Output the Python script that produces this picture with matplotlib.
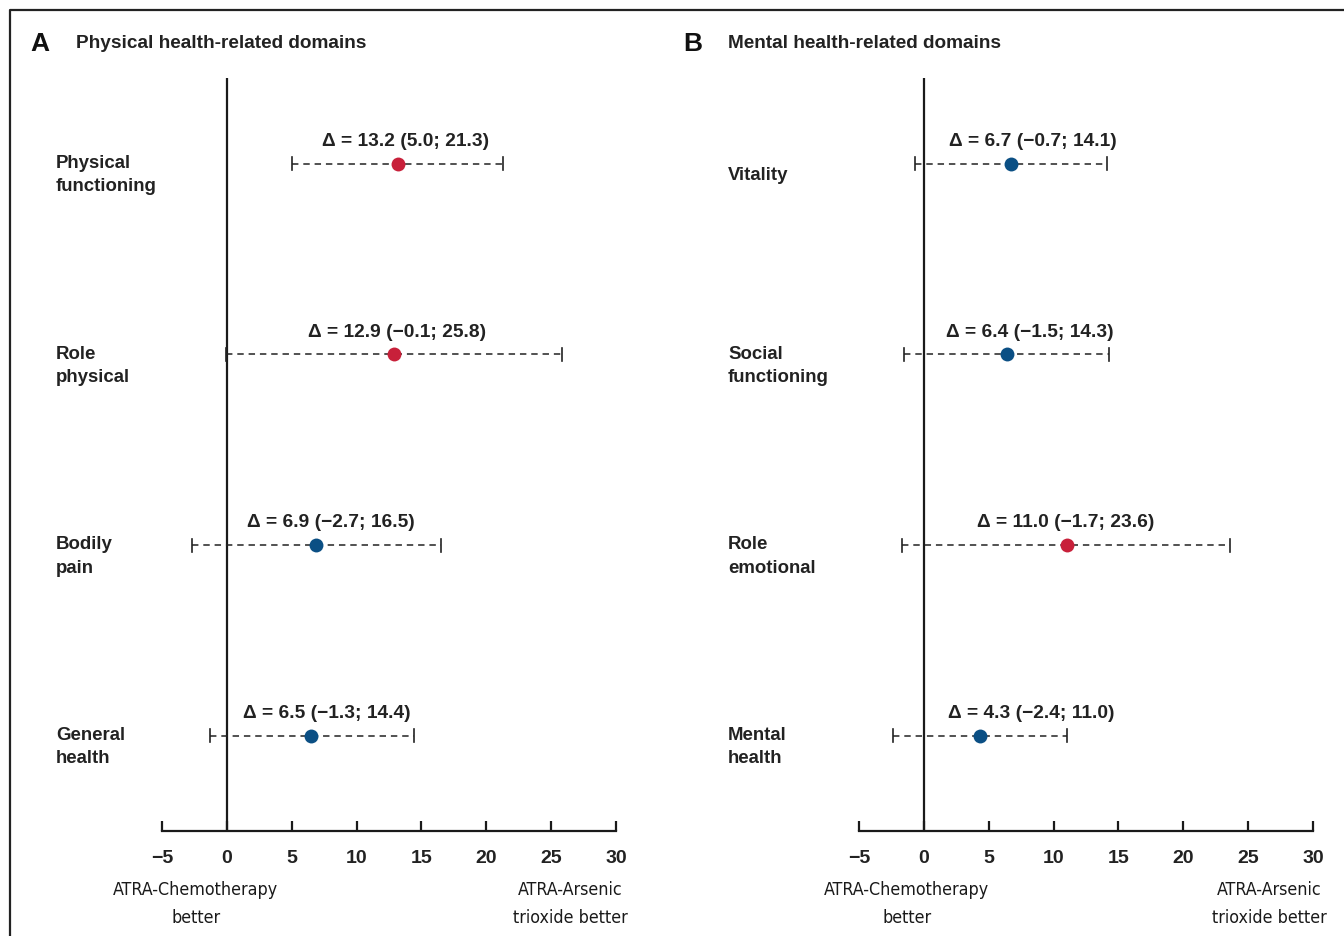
import matplotlib
matplotlib.use("Agg")
import matplotlib.pyplot as plt
from matplotlib.lines import Line2D
import matplotlib.transforms as mtransforms

plt.rcParams['font.family'] = ['Liberation Sans', 'DejaVu Sans']

# ---------------- data ----------------
panel_letters = ["A", "B"]
panel_titles = ["Physical health-related domains", "Mental health-related domains"]

domains_a = ["Physical\nfunctioning", "Role\nphysical", "Bodily\npain", "General\nhealth"]
est_a = [13.2, 12.9, 6.9, 6.5]
lo_a = [5.0, -0.1, -2.7, -1.3]
hi_a = [21.3, 25.8, 16.5, 14.4]
sig_a = [True, True, False, False]

domains_b = ["Vitality", "Social\nfunctioning", "Role\nemotional", "Mental\nhealth"]
est_b = [6.7, 6.4, 11.0, 4.3]
lo_b = [-0.7, -1.5, -1.7, -2.4]
hi_b = [14.1, 14.3, 23.6, 11.0]
sig_b = [False, False, True, False]

xticks = [-5, 0, 5, 10, 15, 20, 25, 30]
left_caption = ["ATRA-Chemotherapy", "better"]
right_caption = ["ATRA-Arsenic", "trioxide better"]

# label x-centres (data units) for the delta annotations
lab_x_a = [13.8, 13.1, 8.0, 7.7]
lab_x_b = [8.4, 8.2, 10.9, 8.3]

RED = "#C8203A"
BLUE = "#0B4F84"
DARK = "#1a1a1a"

W, H = 1344, 936
fig = plt.figure(figsize=(W / 100, H / 100), dpi=100)

# frame lines (top and left)
fx = 10 / W
fy = 1 - 10 / H
fig.add_artist(Line2D([fx, fx, 1.0], [0.0, fy, fy], transform=fig.transFigure,
                      color="#222222", lw=1.6))

def fmt(v):
    s = f"{v:.1f}"
    return s.replace("-", "\u2212")

NARROW = ["Liberation Sans Narrow", "DejaVu Sans"]

def panel(left_px, label_px, letter_px, title_px, letter, title,
          domains, est, lo, hi, sig, lab_x, cap_left_x, cap_right_x):
    ax = fig.add_axes([left_px / W, 1 - 831 / H, 454 / W, 753 / H])
    ys = [4, 3, 2, 1]
    ax.set_xlim(-5, 30)
    ax.set_ylim(0.5, 4.45)
    ax.axvline(0, color=DARK, lw=1.6, zorder=1)
    blend = mtransforms.blended_transform_factory(fig.transFigure, ax.transData)
    for y, e, l, h, s, lx, name in zip(ys, est, lo, hi, sig, lab_x, domains):
        ax.plot([l, h], [y, y], ls=(0, (4.2, 3.2)), color="#222222", lw=1.1, zorder=2)
        ax.plot([l, l], [y - 0.034, y + 0.034], color="#222222", lw=1.2, zorder=2)
        ax.plot([h, h], [y - 0.034, y + 0.034], color="#222222", lw=1.2, zorder=2)
        ax.plot([e], [y], 'o', color=RED if s else BLUE, ms=10, mec='none', zorder=3)
        ax.annotate(f"\u0394 = {fmt(e)} ({fmt(l)}; {fmt(h)})", xy=(lx, y),
                    xytext=(0, 16), textcoords="offset points",
                    ha="center", va="center", fontsize=13.8, fontweight="bold",
                    color="#222222")
        fig.text(label_px / W, y - 0.06, name, ha="left", va="center", fontsize=13.4,
                 fontweight="bold", color="#222222", linespacing=1.5,
                 transform=blend)
    for sp in ["top", "right", "left"]:
        ax.spines[sp].set_visible(False)
    ax.spines["bottom"].set_linewidth(1.6)
    ax.spines["bottom"].set_color(DARK)
    ax.set_yticks([])
    ax.set_xticks(xticks)
    ax.set_xticklabels([str(t).replace("-", "\u2212") for t in xticks],
                       fontsize=14, fontweight="bold", color="#222222")
    ax.tick_params(axis="x", direction="in", length=7, width=1.6, color=DARK, pad=14)
    tr = mtransforms.blended_transform_factory(ax.transData, ax.transAxes)
    for i, (lt, rt) in enumerate(zip(left_caption, right_caption)):
        yy = -0.078 - i * 0.0375
        ax.text(cap_left_x, yy, lt, transform=tr, ha="center", va="center",
                fontsize=12.8, family=NARROW, fontstretch="condensed",
                color="#1a1a1a")
        ax.text(cap_right_x, yy, rt, transform=tr, ha="center", va="center",
                fontsize=12.8, family=NARROW, fontstretch="condensed",
                color="#1a1a1a")
    fig.text(letter_px / W, 1 - 44 / H, letter, ha="left", va="center",
             fontsize=19, fontweight="bold", color="#111111")
    fig.text(title_px / W, 1 - 44 / H, title, ha="left", va="center",
             fontsize=13.7, fontweight="bold", color="#222222")
    return ax

panel(162, 56, 30, 76, panel_letters[0], panel_titles[0],
      domains_a, est_a, lo_a, hi_a, sig_a, lab_x_a, -2.4, 26.5)
panel(859, 728, 683, 728, panel_letters[1], panel_titles[1],
      domains_b, est_b, lo_b, hi_b, sig_b, lab_x_b, -1.3, 26.6)

fig.savefig("out.png", dpi=100, facecolor="white")
